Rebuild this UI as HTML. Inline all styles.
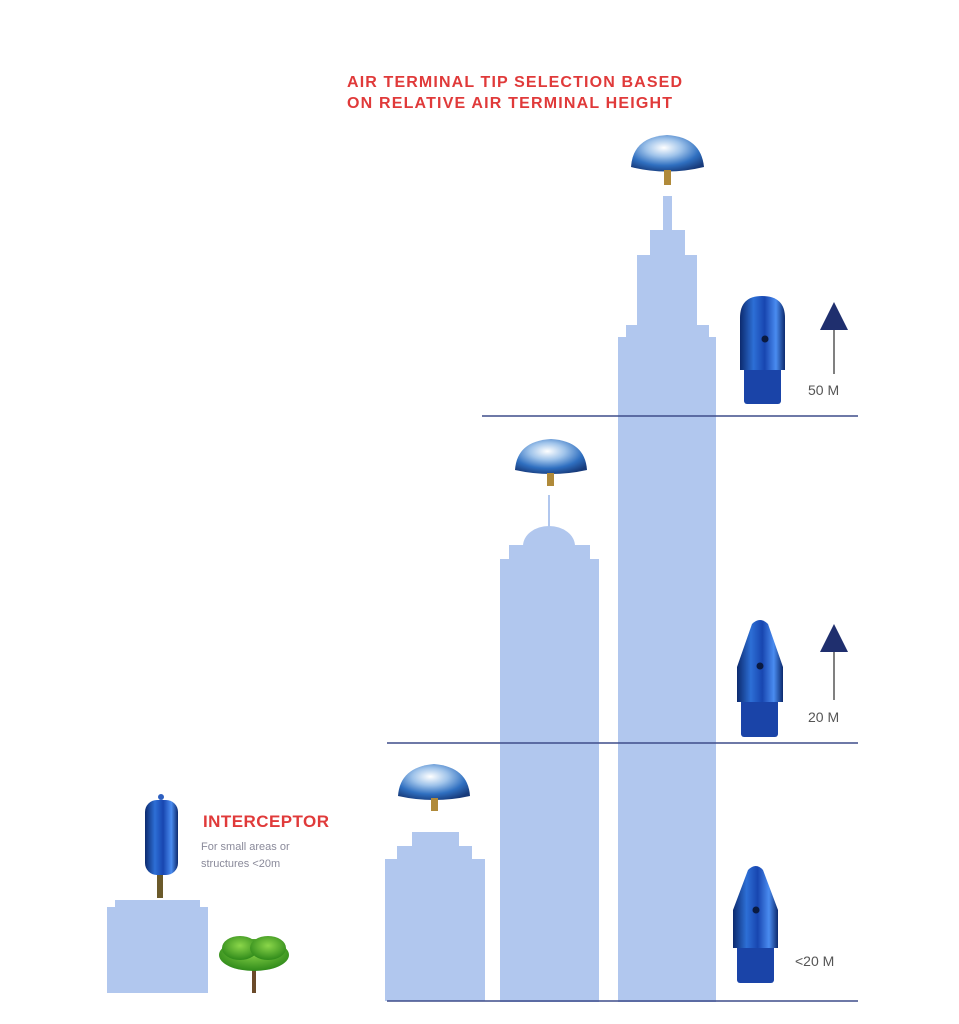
<!DOCTYPE html>
<html><head><meta charset="utf-8"><style>
html,body{margin:0;padding:0;background:#fff;width:959px;height:1024px;overflow:hidden}
svg{display:block}
text{font-family:"Liberation Sans",sans-serif}
</style></head><body>
<svg width="959" height="1024" viewBox="0 0 959 1024" xmlns="http://www.w3.org/2000/svg">
<defs>
<radialGradient id="dome" cx="0.45" cy="0.35" r="0.7">
<stop offset="0" stop-color="#ffffff"/><stop offset="0.35" stop-color="#9fc3ea"/><stop offset="0.7" stop-color="#2f6fc0"/><stop offset="1" stop-color="#173a7a"/></radialGradient>
<linearGradient id="tip" x1="0" x2="1" y1="0" y2="0">
<stop offset="0" stop-color="#0c2a6e"/><stop offset="0.3" stop-color="#2d6fd6"/><stop offset="0.55" stop-color="#1846b0"/><stop offset="0.8" stop-color="#4a8cf0"/><stop offset="1" stop-color="#0c2a6e"/></linearGradient>
<radialGradient id="tree" cx="0.5" cy="0.4" r="0.6"><stop offset="0" stop-color="#8bd64a"/><stop offset="1" stop-color="#2f8a1a"/></radialGradient>
</defs>
<g fill="#b1c7ee">
<rect x="663" y="196" width="9" height="36"/>
<rect x="650" y="230" width="35" height="27"/>
<rect x="637" y="255" width="60" height="72"/>
<rect x="626" y="325" width="83" height="14"/>
<rect x="618" y="337" width="98" height="665"/>
<rect x="548" y="495" width="2" height="32"/>
<ellipse cx="549" cy="546" rx="26" ry="20"/>
<rect x="509" y="545" width="81" height="16"/>
<rect x="500" y="559" width="99" height="443"/>
<rect x="412" y="832" width="47" height="16"/>
<rect x="397" y="846" width="75" height="15"/>
<rect x="385" y="859" width="100" height="142"/>
<rect x="115" y="900" width="85" height="9"/>
<rect x="107" y="907" width="101" height="86"/>
</g>
<g stroke="#3f4d8a" stroke-width="1.5">
<line x1="482" y1="416" x2="858" y2="416"/>
<line x1="387" y1="743" x2="858" y2="743"/>
<line x1="387" y1="1001" x2="858" y2="1001"/>
</g>
<g>
<path d="M631 167 Q633 137 667 135 Q701 137 704 167 Q667 176 631 167Z" fill="url(#dome)"/>
<rect x="664" y="170" width="7" height="15" fill="#b08a3a"/>
<path d="M515 470 Q517 441 551 439 Q585 441 587 470 Q551 478 515 470Z" fill="url(#dome)"/>
<rect x="547" y="473" width="7" height="13" fill="#b08a3a"/>
<path d="M398 796 Q400 767 434 764 Q468 767 470 796 Q434 804 398 796Z" fill="url(#dome)"/>
<rect x="431" y="798" width="7" height="13" fill="#b08a3a"/>
</g>
<rect x="157" y="872" width="6" height="26" fill="#6b5a2a"/>
<rect x="145" y="800" width="33" height="75" rx="12" fill="url(#tip)"/>
<circle cx="161" cy="797" r="3" fill="#2d5fc0"/>
<g>
<rect x="744" y="366" width="37" height="38" rx="3" fill="#1a44a8"/>
<path d="M740 318 Q740 296 762 296 Q785 296 785 318 L785 370 L740 370Z" fill="url(#tip)"/>
<circle cx="765" cy="339" r="3.5" fill="#0a1a40"/>
<rect x="741" y="698" width="37" height="39" rx="3" fill="#1a44a8"/>
<path d="M737 667 L752 624 Q760 616 768 624 L783 667 L783 702 L737 702Z" fill="url(#tip)"/>
<circle cx="760" cy="666" r="3.5" fill="#0a1a40"/>
<rect x="737" y="944" width="37" height="39" rx="3" fill="#1a44a8"/>
<path d="M733 910 L748 870 Q756 862 763 870 L778 910 L778 948 L733 948Z" fill="url(#tip)"/>
<circle cx="756" cy="910" r="3.5" fill="#0a1a40"/>
</g>
<g fill="#1f2f6e" stroke="#555" stroke-width="1.5">
<line x1="834" y1="328" x2="834" y2="374"/>
<path d="M820 330 L834 302 L848 330Z" stroke="none"/>
<line x1="834" y1="650" x2="834" y2="700"/>
<path d="M820 652 L834 624 L848 652Z" stroke="none"/>
</g>
<rect x="252" y="960" width="4" height="33" fill="#6b4a2a"/>
<ellipse cx="254" cy="955" rx="35" ry="16" fill="url(#tree)"/>
<ellipse cx="240" cy="948" rx="18" ry="12" fill="url(#tree)"/>
<ellipse cx="268" cy="948" rx="18" ry="12" fill="url(#tree)"/>
<g fill="#e03a3a" font-weight="bold">
<text x="347" y="87" font-size="16" textLength="335" lengthAdjust="spacing">AIR TERMINAL TIP SELECTION BASED</text>
<text x="347" y="108" font-size="16" textLength="325" lengthAdjust="spacing">ON RELATIVE AIR TERMINAL HEIGHT</text>
<text x="203" y="827" font-size="17" textLength="126" lengthAdjust="spacing">INTERCEPTOR</text>
</g>
<g fill="#8a8a9a" font-size="11">
<text x="201" y="850">For small areas or</text>
<text x="201" y="867">structures &lt;20m</text>
</g>
<g fill="#555" font-size="14">
<text x="808" y="395">50 M</text>
<text x="808" y="722">20 M</text>
<text x="795" y="966">&lt;20 M</text>
</g>
</svg>
</body></html>
